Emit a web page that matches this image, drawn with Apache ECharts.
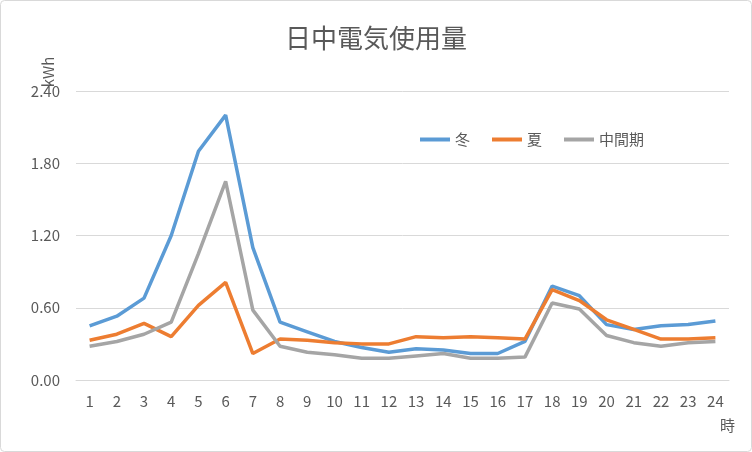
<!DOCTYPE html><html><head><meta charset="utf-8">
<script src="https://cdn.jsdelivr.net/npm/echarts@6/dist/echarts.min.js"></script>
<style>body{margin:0}#c{width:752px;height:452px}</style></head><body><div id="c"></div>
<script>
const hours=['1','2','3','4','5','6','7','8','9','10','11','12','13','14','15','16','17','18','19','20','21','22','23','24'];
const winter=[0.45,0.53,0.68,1.20,1.90,2.20,1.10,0.48,0.40,0.32,0.27,0.23,0.26,0.25,0.22,0.22,0.32,0.78,0.70,0.46,0.42,0.45,0.46,0.49];
const summer=[0.33,0.38,0.47,0.36,0.62,0.81,0.22,0.34,0.33,0.31,0.30,0.30,0.36,0.35,0.36,0.35,0.34,0.75,0.66,0.50,0.42,0.34,0.34,0.35];
const mid=[0.28,0.32,0.38,0.48,1.05,1.65,0.58,0.28,0.23,0.21,0.18,0.18,0.20,0.22,0.18,0.18,0.19,0.64,0.59,0.37,0.31,0.28,0.31,0.32];
const names=['冬','夏','中間期'];
const colors=['#5b9bd5','#ed7d31','#a5a5a5'];
const font='"Noto Sans CJK JP", sans-serif';
const mk=(n,d,c)=>({name:n,type:'line',data:d,symbol:'none',lineStyle:{width:3.5,color:c},itemStyle:{color:c}});
const ch=echarts.init(document.getElementById('c'));
ch.setOption({
 backgroundColor:'#fff',
 textStyle:{fontFamily:font},
 title:{text:'日中電気使用量',left:'center',top:20,textStyle:{fontSize:26,fontWeight:'normal',color:'#595959',fontFamily:font}},
 legend:{data:names,left:415,top:127,itemWidth:30,itemHeight:4,itemGap:22,icon:'rect',textStyle:{fontSize:15,color:'#595959'}},
 grid:{left:76,right:23,top:91,bottom:72},
 graphic:[
  {type:'rect',shape:{x:0.5,y:0.5,width:751,height:451,r:4},style:{fill:'none',stroke:'#d9d9d9',lineWidth:1},silent:true},
  {type:'text',x:48,y:72,rotation:Math.PI/2,style:{text:'kWh',fontSize:15,fill:'#595959',fontFamily:font,align:'center',verticalAlign:'middle'}},
  {type:'text',x:720,y:418,style:{text:'時',fontSize:15,fill:'#595959',fontFamily:font}}
 ],
 xAxis:{type:'category',data:hours,boundaryGap:true,
  axisLine:{lineStyle:{color:'#d9d9d9'}},axisTick:{show:false},
  axisLabel:{fontSize:15,color:'#595959',margin:14}},
 yAxis:{type:'value',min:0,max:2.4,interval:0.6,
  axisLine:{show:false},axisTick:{show:false},
  axisLabel:{fontSize:15,color:'#595959',margin:16,formatter:v=>v.toFixed(2)},
  splitLine:{lineStyle:{color:'#d9d9d9'}}},
 series:[mk(names[0],winter,colors[0]),mk(names[1],summer,colors[1]),mk(names[2],mid,colors[2])]
});
</script></body></html>
